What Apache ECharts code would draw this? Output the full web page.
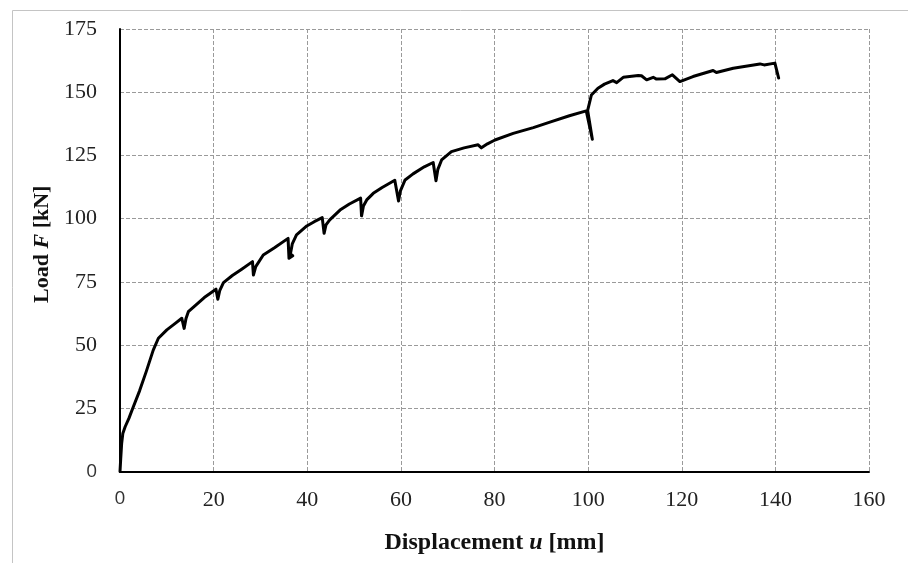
<!DOCTYPE html>
<html>
<head>
<meta charset="utf-8">
<script src="https://cdn.jsdelivr.net/npm/echarts@6/dist/echarts.min.js"></script>
<style>html,body{margin:0;padding:0;background:#fff}#c{width:908px;height:563px}</style>
</head>
<body>
<div id="c"></div>
<script>
// Displacement u [mm]
const dispU = [0,0.15,0.35,0.6,1.1,1.9,2.85,4.2,5.6,7.1,8.2,10,11.8,13.2,13.7,14.1,14.6,16,18,20.5,20.9,21.3,22.1,24,26,28.3,28.5,29,30.6,33,35.9,36.1,36.9,36.4,36.8,37.7,39.9,41.5,43.2,43.6,44,44.8,47,49,51.4,51.6,52,52.7,54.1,56,58.7,59.5,59.9,60.9,62.6,65,66.9,67.5,67.9,68.7,70.8,73.5,76.5,77.2,78.5,80.1,84,88.3,92,96,99.6,100.9,99.9,100.7,102.1,103.5,105.3,106.1,107.5,110.7,111.4,112.5,113.9,114.6,116.4,118,119.6,122.4,126.7,127.4,131,136.7,137.6,139.9,140.7];
// Load F [kN]
const loadF = [0,5,11,15,17.7,21,25.6,32,39.5,48,52.7,56,58.6,60.6,56.6,60.5,63.2,65.5,68.8,72.1,68.1,71.5,74.7,77.5,80,83,77.7,81,85.6,88.5,92.2,84.3,85.3,86,90,93.6,97.1,98.8,100.4,94.2,97.5,99.5,103.4,105.8,108.1,101.1,105,107.4,110,112.3,115.2,107,111,115.3,117.7,120.5,122.2,115,119.5,123.2,126.5,128,129.2,128,129.6,131.1,133.7,136,138.3,140.7,142.6,131.4,142.8,148.9,151.6,153.2,154.6,153.8,155.9,156.6,156.5,154.9,155.9,155.2,155.3,156.9,154.2,156.2,158.6,157.8,159.5,161.2,160.8,161.5,155.6];
const xTicks = [0,20,40,60,80,100,120,140,160];
const yTicks = [0,25,50,75,100,125,150,175];

const pts = dispU.map((u,i)=>[u, loadF[i]]);
const serif = '"Liberation Serif", "DejaVu Serif", serif';
const grid = {type:'dashed', color:'#9a9a9a', width:1, dashOffset:0};

const chart = echarts.init(document.getElementById('c'), null, {renderer:'canvas'});
chart.setOption({
  animation:false,
  backgroundColor:'#fff',
  graphic:[{type:'polyline', shape:{points:[[12.5,600],[12.5,10.5],[920,10.5]]}, style:{stroke:'#c4c4c4', lineWidth:1, fill:null}}],
  grid:{left:120, right:39, top:29, bottom:91.5},
  xAxis:{
    type:'value', min:xTicks[0], max:xTicks[xTicks.length-1], interval:20,
    name:'{b|Displacement }{i|u}{b| [mm]}', nameLocation:'middle', nameGap:59,
    nameTextStyle:{rich:{
      b:{fontFamily:serif, fontWeight:'bold', fontSize:24, color:'#111'},
      i:{fontFamily:serif, fontWeight:'bold', fontStyle:'italic', fontSize:24, color:'#111'}}},
    axisLine:{show:true, lineStyle:{color:'#000', width:2}},
    axisTick:{show:false},
    axisLabel:{margin:18, fontFamily:serif, fontSize:22, color:'#222',
      formatter:v=> v===0 ? '{z|0}' : String(v),
      rich:{z:{fontFamily:'"Open Sans", sans-serif', fontSize:19, color:'#333'}}},
    splitLine:{show:true, lineStyle:grid}
  },
  yAxis:{
    type:'value', min:yTicks[0], max:yTicks[yTicks.length-1], interval:25,
    name:'{b|Load }{i|F}{b| [kN]}', nameLocation:'middle', nameGap:67, nameRotate:90,
    nameTextStyle:{padding:[0,0,0,12], rich:{
      b:{fontFamily:serif, fontWeight:'bold', fontSize:22, color:'#111'},
      i:{fontFamily:serif, fontWeight:'bold', fontStyle:'italic', fontSize:22, color:'#111'}}},
    axisLine:{show:true, lineStyle:{color:'#000', width:2}},
    axisTick:{show:false},
    axisLabel:{margin:23, fontFamily:serif, fontSize:22, color:'#222',
      formatter:v=> v===0 ? '{z|0}' : String(v),
      rich:{z:{fontFamily:'"Open Sans", sans-serif', fontSize:19, color:'#333'}}},
    splitLine:{show:true, lineStyle:grid}
  },
  series:[{type:'line', data:pts, showSymbol:false, symbol:'none', smooth:false,
    lineStyle:{color:'#000', width:3, join:'round', cap:'round'}, z:5}]
});
</script>
</body>
</html>
